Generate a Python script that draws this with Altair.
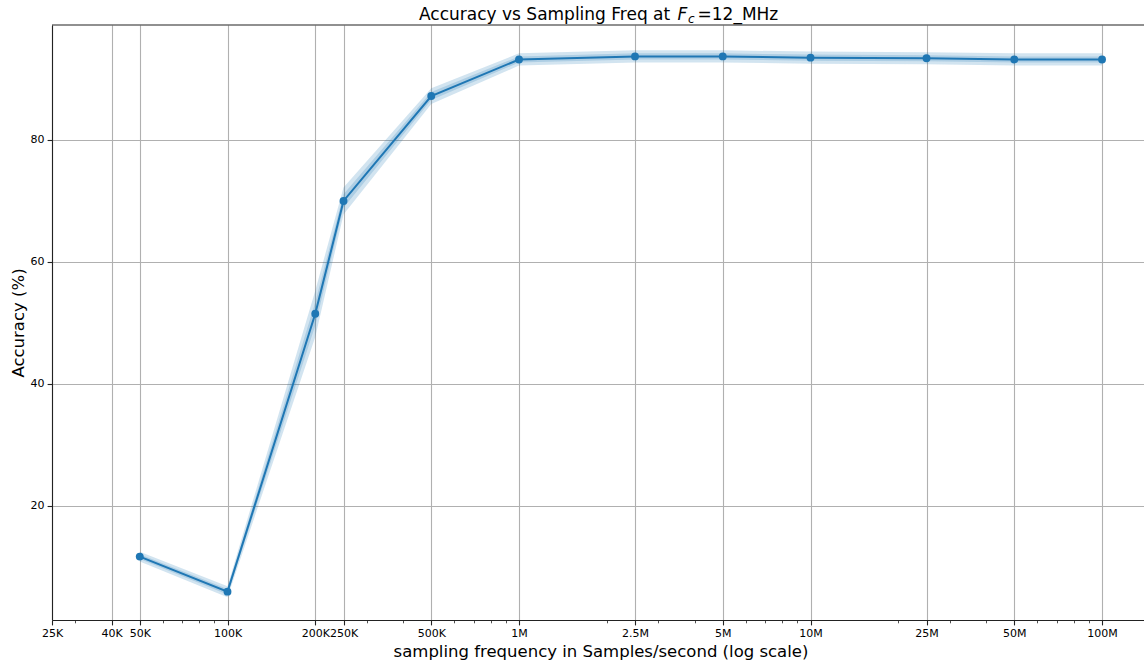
import altair as alt
import pandas as pd

# ---- data ----
freqs = [50000, 100000, 200000, 250000, 500000, 1000000, 2500000, 5000000,
         10000000, 25000000, 50000000, 100000000]
accuracy = [11.7, 5.95, 51.5, 70.0, 87.2, 93.2, 93.7, 93.7, 93.5, 93.4, 93.2, 93.2]
err_outer = [0.8, 0.9, 3.8, 2.2, 1.3, 1.0, 1.0, 1.0, 1.0, 1.0, 1.0, 1.0]
err_inner = [0.4, 0.45, 1.9, 1.1, 0.65, 0.5, 0.5, 0.5, 0.5, 0.5, 0.5, 0.5]

major_vals = [25000, 40000, 50000, 100000, 200000, 250000, 500000, 1000000,
              2500000, 5000000, 10000000, 25000000, 50000000, 100000000]
major_labels = ["25K", "40K", "50K", "100K", "200K", "250K", "500K", "1M",
                "2.5M", "5M", "10M", "25M", "50M", "100M"]
minor_vals = [30000, 60000, 70000, 80000, 90000, 300000, 400000, 600000, 700000,
              800000, 900000, 2000000, 3000000, 4000000, 6000000, 7000000, 8000000,
              9000000, 20000000, 30000000, 40000000, 60000000, 70000000, 80000000,
              90000000]
y_ticks = [20, 40, 60, 80]

BLUE = "#1f77b4"
FONT = "DejaVu Sans"
W, H = 1092, 595

df = pd.DataFrame({
    "f": freqs,
    "acc": accuracy,
    "lo_o": [a - e for a, e in zip(accuracy, err_outer)],
    "hi_o": [a + e for a, e in zip(accuracy, err_outer)],
    "lo_i": [a - e for a, e in zip(accuracy, err_inner)],
    "hi_i": [a + e for a, e in zip(accuracy, err_inner)],
})

major_list = ",".join(str(v) for v in major_vals)
is_major = f"indexof([{major_list}], datum.value) >= 0"
label_expr = "".join(f"datum.value == {v} ? '{l}' : " for v, l in zip(major_vals, major_labels)) + "''"

x_axis = alt.Axis(
    values=sorted(major_vals + minor_vals),
    labelExpr=label_expr,
    labelOverlap=False,
    labelFlush=False,
    labelFontSize=11,
    labelPadding=2.5,
    tickSize={"condition": {"test": is_major, "value": 4.9}, "value": 2.8},
    tickWidth={"condition": {"test": is_major, "value": 1.1}, "value": 0.8},
    gridOpacity={"condition": {"test": is_major, "value": 1}, "value": 0},
    title="sampling frequency in Samples/second (log scale)",
    titleFontSize=16.5,
    titleX=548.5,
    titleY=36,
    titleAnchor="middle",
    titleAlign="center",
    titleBaseline="alphabetic",
)
y_axis = alt.Axis(
    values=y_ticks,
    labelFontSize=11,
    labelPadding=3,
    tickSize=4.9,
    tickWidth=1.1,
    title="Accuracy (%)",
    titleFontSize=16.5,
    titleAngle=270,
    titleX=-29,
    titleY=H / 2,
    titleAlign="center",
    titleBaseline="alphabetic",
)

x_scale = alt.Scale(type="log", domain=[25000, 139300000], nice=False)
y_scale = alt.Scale(domain=[1.3, 98.85], nice=False, zero=False)

X = alt.X("f:Q", scale=x_scale, axis=x_axis)

base = alt.Chart(df)
outer = base.mark_area(color=BLUE, opacity=0.2).encode(
    x=X, y=alt.Y("lo_o:Q", scale=y_scale, axis=y_axis), y2="hi_o:Q")
inner = base.mark_area(color=BLUE, opacity=0.2).encode(
    x=X, y=alt.Y("lo_i:Q", scale=y_scale, axis=y_axis), y2="hi_i:Q")
line = base.mark_line(color=BLUE, strokeWidth=2).encode(
    x=X, y=alt.Y("acc:Q", scale=y_scale, axis=y_axis))
pts = base.mark_circle(color=BLUE, size=62, opacity=1).encode(
    x=X, y=alt.Y("acc:Q", scale=y_scale, axis=y_axis))

one = pd.DataFrame({"k": [0]})
top_rule = alt.Chart(one).mark_rule(color="#222222", strokeWidth=1.1).encode(
    x=alt.value(0), x2=alt.value(W), y=alt.value(0))

title_parts = [
    ("Accuracy vs Sampling Freq at", 367, -5.5, 17, "normal"),
    ("F", 625.5, -5.5, 17, "italic"),
    ("c", 636, -2.5, 12, "italic"),
    ("=12_MHz", 645.5, -5.5, 17, "normal"),
]
title_layers = []
for txt, tx, ty, fs, style in title_parts:
    title_layers.append(
        alt.Chart(pd.DataFrame({"t": [txt]})).mark_text(
            align="left", baseline="alphabetic", font=FONT, fontSize=fs,
            fontStyle=style, color="black"
        ).encode(x=alt.value(tx), y=alt.value(ty), text="t:N")
    )

chart = alt.layer(outer, inner, line, pts, top_rule, *title_layers).properties(
    width=W,
    height=H,
    autosize=alt.AutoSizeParams(type="none"),
    padding={"left": 52, "top": 25, "right": 0, "bottom": 45},
).configure_view(stroke=None).configure_axis(
    labelFont=FONT,
    titleFont=FONT,
    labelColor="black",
    titleColor="black",
    titleFontWeight="normal",
    domainColor="#222222",
    domainWidth=1.1,
    tickColor="#222222",
    gridColor="#b0b0b0",
    gridWidth=1.1,
)

chart.save("out.html", embed_options={"renderer": "svg", "actions": False})
